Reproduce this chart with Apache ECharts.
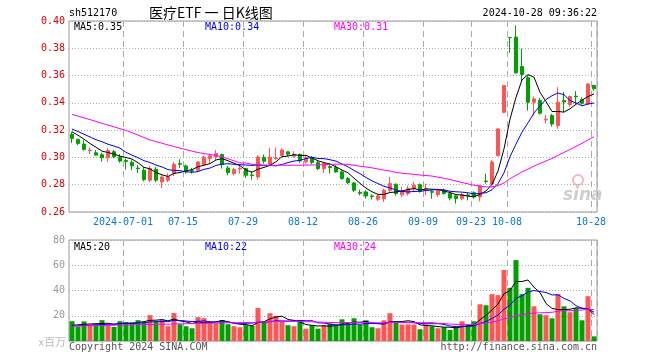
<!DOCTYPE html>
<html><head><meta charset="utf-8">
<script src="https://cdn.jsdelivr.net/npm/echarts@6/dist/echarts.min.js"></script>
<style>html,body{margin:0;padding:0;background:#fff}#c{width:660px;height:360px}</style>
</head><body><div id="c"></div><script>
const dates = [
'2024-06-18','2024-06-19','2024-06-20','2024-06-21','2024-06-24','2024-06-25','2024-06-26','2024-06-27','2024-06-28',
'2024-07-01','2024-07-02','2024-07-03','2024-07-04','2024-07-05','2024-07-08','2024-07-09','2024-07-10','2024-07-11','2024-07-12',
'2024-07-15','2024-07-16','2024-07-17','2024-07-18','2024-07-19','2024-07-22','2024-07-23','2024-07-24','2024-07-25','2024-07-26',
'2024-07-29','2024-07-30','2024-07-31',
'2024-08-01','2024-08-02','2024-08-05','2024-08-06','2024-08-07','2024-08-08','2024-08-09','2024-08-12','2024-08-13','2024-08-14',
'2024-08-15','2024-08-16','2024-08-19','2024-08-20','2024-08-21','2024-08-22','2024-08-23','2024-08-26','2024-08-27','2024-08-28',
'2024-08-29','2024-08-30',
'2024-09-02','2024-09-03','2024-09-04','2024-09-05','2024-09-06','2024-09-09','2024-09-10','2024-09-11','2024-09-12','2024-09-13',
'2024-09-18','2024-09-19','2024-09-20','2024-09-23','2024-09-24','2024-09-25','2024-09-26','2024-09-27','2024-09-30',
'2024-10-08','2024-10-09','2024-10-10','2024-10-11','2024-10-14','2024-10-15','2024-10-16','2024-10-17','2024-10-18','2024-10-21',
'2024-10-22','2024-10-23','2024-10-24','2024-10-25','2024-10-28'];
const opens = [
.3169,.3132,.3098,.3050,.3034,.3020,.2998,.3042,.3000,.2978,
.2965,.2922,.2906,.2833,.2913,.2820,.2833,.2882,.2955,.2938,
.2902,.2906,.2948,.2992,.3004,.3021,.2923,.2882,.2916,.2918,
.2872,.2857,.3000,.2950,.2992,.3015,.3041,.3009,.3023,.2967,
.2996,.2962,.2918,.2933,.2926,.2894,.2845,.2813,.2744,.2747,
.2718,.2693,.2698,.2759,.2803,.2727,.2735,.2771,.2800,.2769,
.2749,.2727,.2759,.2735,.2718,.2698,.2725,.2742,.2710,.2827,
.2805,.3013,.3331,.3880,.3882,.3667,.3584,.3405,.3417,.3275,
.3307,.3233,.3417,.3387,.3449,.3424,.3392,.3527];
const closes = [
.3140,.3103,.3059,.3054,.3017,.2998,.3051,.3005,.2973,.2971,
.2938,.2918,.2837,.2918,.2833,.2857,.2857,.2950,.2950,.2894,
.2899,.2967,.3002,.3011,.3028,.2948,.2889,.2911,.2921,.2869,
.2867,.3004,.2972,.3002,.2997,.3055,.3023,.3023,.2975,.2999,
.2962,.2918,.2955,.2926,.2894,.2845,.2816,.2759,.2737,.2718,
.2713,.2718,.2759,.2808,.2735,.2751,.2771,.2796,.2751,.2774,
.2745,.2759,.2735,.2702,.2698,.2727,.2720,.2710,.2791,.2823,
.2966,.3209,.3527,.3878,.3620,.3608,.3405,.3429,.3324,.3280,
.3245,.3405,.3407,.3446,.3444,.3397,.3539,.3503];
const lows = [
.3106,.3091,.3049,.3025,.3015,.2968,.2968,.2993,.2961,.2911,
.2906,.2886,.2825,.2820,.2820,.2776,.2820,.2864,.2923,.2881,
.2881,.2899,.2943,.2955,.2979,.2918,.2869,.2869,.2881,.2850,
.2837,.2837,.2955,.2940,.2982,.3007,.3009,.2999,.2960,.2955,
.2950,.2906,.2886,.2882,.2886,.2837,.2804,.2747,.2722,.2698,
.2691,.2681,.2674,.2747,.2720,.2710,.2720,.2745,.2742,.2722,
.2698,.2710,.2727,.2685,.2661,.2685,.2685,.2698,.2678,.2808,
.2798,.3008,.3324,.3767,.3613,.3559,.3343,.3307,.3314,.3250,
.3226,.3209,.3331,.3373,.3392,.3387,.3387,.3490];
const highs = [
.3189,.3137,.3127,.3073,.3054,.3034,.3069,.3054,.3024,.2992,
.2979,.2943,.2930,.2935,.2930,.2869,.2882,.2967,.2987,.2948,
.2923,.2972,.3011,.3028,.3053,.3028,.2938,.2923,.2943,.2923,
.2899,.3016,.3021,.3070,.3072,.3068,.3045,.3045,.3028,.3011,
.3009,.2974,.2967,.2955,.2943,.2906,.2857,.2820,.2764,.2759,
.2730,.2730,.2771,.2857,.2810,.2784,.2793,.2822,.2808,.2808,
.2759,.2771,.2771,.2747,.2727,.2742,.2742,.2752,.2800,.2881,
.2979,.3214,.3532,.3880,.3968,.3797,.3601,.3446,.3437,.3314,
.3319,.3515,.3480,.3454,.3486,.3441,.3544,.3532];
const volumes = [
15.7,11.5,15.5,12.5,13.3,16.5,12.5,11.2,15.7,14.9,
14.9,16.5,14.9,20.5,15.7,17.0,11.7,22.1,13.3,11.7,
10.1,18.9,18.1,14.1,14.1,16.5,13.3,11.7,10.9,12.5,
12.0,26.1,15.1,22.0,19.9,15.6,12.5,11.7,15.6,9.8,
12.5,9.8,12.5,13.8,13.0,17.2,13.0,18.0,13.0,16.4,
10.9,10.1,16.4,22.0,15.6,13.0,13.2,13.0,9.3,13.0,
11.7,10.1,10.9,8.7,10.9,15.6,13.0,15.6,29.1,28.3,
37.1,36.3,56.2,42.1,64.1,37.1,42.1,27.5,21.2,20.4,
18.0,37.1,27.5,22.8,26.0,16.4,35.5,3.7];
// moving-average values before enough history exists
const ma5Head = [.3188,.3163,.3134,.3102];
const ma10Head = [.3208,.3190,.3170,.3150,.3130,.3115,.3097,.3083,.3068];
const ma30Head = [.3316,.3303,.3290,.3277,.3264,.3250,.3237,.3224,.3211,.3198,
.3181,.3164,.3146,.3128,.3116,.3104,.3092,.3080,.3068,.3057,
.3046,.3036,.3028,.3022,.3014,.3004,.2990,.2975,.2960];
const vma5Head = [12.4,12.8,13.2,13.5];
const vma10Head = [12.0,12.2,12.4,12.6,12.8,13.0,13.2,13.4,13.6];
const vma30Head = [11.8,11.9,12.0,12.1,12.2,12.3,12.4,12.5,12.6,12.7,
12.8,12.9,13.0,13.1,13.2,13.3,13.4,13.5,13.6,13.7,
13.8,13.9,14.0,14.1,14.2,14.3,14.4,14.4,14.5];
const tickDates = ['2024-07-01','2024-07-15','2024-07-29','2024-08-12','2024-08-26','2024-09-09','2024-09-23','2024-10-08','2024-10-28'];
const priceTicks = {min:0.26, max:0.40, step:0.02};
const volTicks = {min:0, max:80, step:20};

function movingAvg(vals, n, head){
  return vals.map((v,i)=>{
    if(i<n-1) return head[i];
    let s=0; for(let k=i-n+1;k<=i;k++) s+=vals[k];
    return s/n;
  });
}
const UP='#ff5555', DOWN='#00a000';
const kData = dates.map((d,i)=>[opens[i],closes[i],lows[i],highs[i]]);
const volData = volumes.map((v,i)=>({value:v,itemStyle:{color: closes[i]>=opens[i]?UP:DOWN}}));
const MONO='DejaVu Sans Mono';
const isTick = (idx,val)=>tickDates.indexOf(val)>=0;
const splitX = {show:true, interval:isTick, lineStyle:{color:'#aaa',type:[6,4],width:1}};
const chart = echarts.init(document.getElementById('c'),null,{renderer:'canvas'});
const lineS = (name,data,color,xi,yi)=>({name,type:'line',data,xAxisIndex:xi,yAxisIndex:yi,symbol:'none',silent:true,
  lineStyle:{color,width:1},itemStyle:{color},z:5});
chart.setOption({
  animation:false,
  backgroundColor:'#fff',
  grid:[
    {left:69,top:21,width:528,height:191,show:true,borderColor:'#999',borderWidth:1,backgroundColor:'transparent'},
    {left:69,top:240,width:528,height:101,show:true,borderColor:'#999',borderWidth:1,backgroundColor:'transparent'}
  ],
  xAxis:[
    {type:'category',data:dates,gridIndex:0,boundaryGap:true,axisLine:{show:false},axisTick:{show:false},
     axisLabel:{interval:isTick,formatter:v=>v==='2024-07-01'?v:v.slice(5),color:'#0a78d2',fontFamily:MONO,fontSize:10,margin:5,padding:[0,6,0,0]},
     splitLine:splitX},
    {type:'category',data:dates,gridIndex:1,boundaryGap:true,axisLine:{show:false},axisTick:{show:false},
     axisLabel:{show:false},splitLine:splitX}
  ],
  yAxis:[
    {type:'value',gridIndex:0,min:priceTicks.min,max:priceTicks.max,interval:priceTicks.step,axisLine:{show:false},axisTick:{show:false},
     axisLabel:{color:'#e60000',fontFamily:MONO,fontSize:10,margin:4,formatter:v=>v.toFixed(2)},
     splitLine:{show:true,lineStyle:{color:'#aaa',type:[1,2],width:1}}},
    {type:'value',gridIndex:1,min:volTicks.min,max:volTicks.max,interval:volTicks.step,axisLine:{show:false},axisTick:{show:false},
     axisLabel:{color:'#999',fontFamily:MONO,fontSize:10,margin:4,formatter:v=>v===0?'':String(v)},
     splitLine:{show:true,lineStyle:{color:'#aaa',type:[1,2],width:1}}}
  ],
  graphic:[
    {type:'text',x:69,y:13,style:{text:'sh512170',font:'10px '+MONO,fill:'#000',textVerticalAlign:'middle',verticalAlign:'middle'}},
    {type:'text',x:149,y:13,style:{text:'医疗ETF 一 日K线图',font:'14px "Noto Sans CJK SC"',fill:'#000',textVerticalAlign:'middle',verticalAlign:'middle'}},
    {type:'text',x:597,y:13,style:{text:'2024-10-28 09:36:22',font:'10px '+MONO,fill:'#000',textAlign:'right',align:'right',textVerticalAlign:'middle',verticalAlign:'middle'}},
    {type:'text',x:74,y:27,style:{text:'MA5:0.35',font:'10px '+MONO,fill:'#000',textVerticalAlign:'middle',verticalAlign:'middle'}},
    {type:'text',x:205,y:27,style:{text:'MA10:0.34',font:'10px '+MONO,fill:'#0000ff',textVerticalAlign:'middle',verticalAlign:'middle'}},
    {type:'text',x:334,y:27,style:{text:'MA30:0.31',font:'10px '+MONO,fill:'#ff00ff',textVerticalAlign:'middle',verticalAlign:'middle'}},
    {type:'text',x:74,y:247,style:{text:'MA5:20',font:'10px '+MONO,fill:'#000',textVerticalAlign:'middle',verticalAlign:'middle'}},
    {type:'text',x:205,y:247,style:{text:'MA10:22',font:'10px '+MONO,fill:'#0000ff',textVerticalAlign:'middle',verticalAlign:'middle'}},
    {type:'text',x:334,y:247,style:{text:'MA30:24',font:'10px '+MONO,fill:'#ff00ff',textVerticalAlign:'middle',verticalAlign:'middle'}},
    {type:'text',x:66,y:342,style:{text:'x百万',font:'11px "Noto Sans CJK SC"',fill:'#bbb',textAlign:'right',align:'right',textVerticalAlign:'middle',verticalAlign:'middle'}},
    {type:'text',x:69,y:347,style:{text:'Copyright 2024 SINA.COM',font:'10px '+MONO,fill:'#555',textVerticalAlign:'middle',verticalAlign:'middle'}},
    {type:'text',x:597,y:347,style:{text:'http://finance.sina.com.cn',font:'10px '+MONO,fill:'#555',textAlign:'right',align:'right',textVerticalAlign:'middle',verticalAlign:'middle'}},
    {type:'text',x:563,y:196,style:{text:'sina',font:'italic bold 17px "DejaVu Sans"',fill:'#cfcfcf',textVerticalAlign:'middle',verticalAlign:'middle'}},
    {type:'circle',shape:{cx:578,cy:180,r:5},style:{fill:'none',stroke:'#f0b8b8',lineWidth:2}}
  ],
  series:[
    {name:'K',type:'candlestick',data:kData,xAxisIndex:0,yAxisIndex:0,barWidth:4,silent:true,
     itemStyle:{color:UP,color0:DOWN,borderColor:UP,borderColor0:DOWN,borderWidth:1},z:3},
    lineS('MA5',movingAvg(closes,5,ma5Head),'#000',0,0),
    lineS('MA10',movingAvg(closes,10,ma10Head),'#0000ff',0,0),
    lineS('MA30',movingAvg(closes,30,ma30Head),'#ff00ff',0,0),
    {name:'VOL',type:'bar',data:volData,xAxisIndex:1,yAxisIndex:1,barWidth:5,silent:true,z:3},
    lineS('VMA5',movingAvg(volumes,5,vma5Head),'#000',1,1),
    lineS('VMA10',movingAvg(volumes,10,vma10Head),'#0000ff',1,1),
    lineS('VMA30',movingAvg(volumes,30,vma30Head),'#ff00ff',1,1)
  ]
});
</script></body></html>
